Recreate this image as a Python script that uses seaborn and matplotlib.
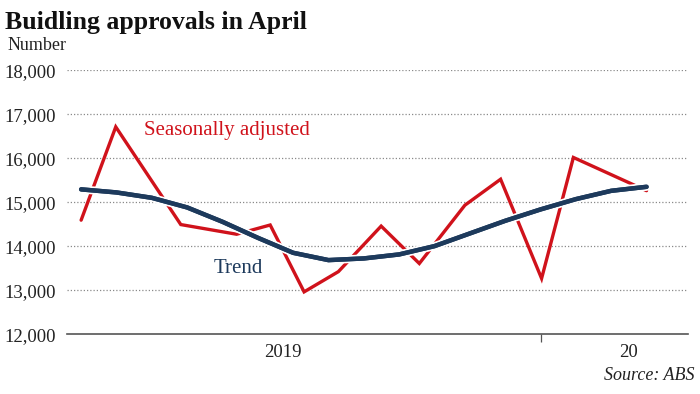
import matplotlib
matplotlib.use("Agg")
import matplotlib.pyplot as plt
import matplotlib.patheffects as pe
import seaborn as sns
import pandas as pd

# ---- data ----
# x measured in months from Dec 2018 (0) to Apr 2020 (16)
sa_x = [0, 0.98, 2.82, 4.40, 5.35, 6.31, 7.28, 8.49, 9.57, 10.86, 11.87, 13.03, 13.93, 16.0]
sa_y = [14590, 16710, 14490, 14270, 14480, 12960, 13420, 14455, 13605, 14930, 15520, 13265, 16015, 15260]
trend_x = list(range(17))
trend_y = [15290, 15220, 15098, 14879, 14553, 14189, 13848, 13682, 13720, 13811,
           14000, 14288, 14575, 14834, 15068, 15257, 15348]
y_ticks = [12000, 13000, 14000, 15000, 16000, 17000, 18000]
x_label_pos = [5.71, 15.5]
x_labels = ["2019", "20"]
year_tick = [13]

RED = "#d0121b"
NAVY = "#1d3a5c"
SERIF = ["Liberation Serif", "DejaVu Serif"]

sns.set_theme(style="white")
plt.rcParams["font.family"] = SERIF

fig = plt.figure(figsize=(7.0, 3.94), dpi=100)
ax = fig.add_axes([0.0957, 0.152, 0.887, 0.670])

sa = pd.DataFrame({"x": sa_x, "y": sa_y})
tr = pd.DataFrame({"x": trend_x, "y": trend_y})

sns.lineplot(data=sa, x="x", y="y", ax=ax, color=RED, lw=2.4, zorder=3)
sns.lineplot(data=tr, x="x", y="y", ax=ax, color=NAVY, lw=3.2, zorder=4,
             path_effects=[pe.withStroke(linewidth=5.8, foreground="white"), pe.Normal()])
ax.lines[-1].set_solid_capstyle("round")
ax.lines[-1].set_solid_joinstyle("round")
ax.lines[0].set_solid_joinstyle("miter")

ax.set_ylim(12000, 18000)
ax.set_xlim(-0.40, 17.17)
ax.set_yticks(y_ticks)
ax.set_yticklabels([f"{v:,}" for v in y_ticks])
for v in y_ticks[1:]:
    ax.axhline(v, color="#8a8a8a", lw=0.9, ls=(0, (1, 1.6)), zorder=1)

ax.set_xticks(x_label_pos)
ax.set_xticklabels(x_labels)
ax.set_xticks(year_tick, minor=True)
ax.tick_params(axis="x", which="major", length=0, pad=7, labelsize=13.5, colors="#222222")
ax.tick_params(axis="x", which="minor", length=6, width=0.9, color="#555555", direction="out", bottom=True)
ax.tick_params(axis="y", length=0, pad=8, labelsize=13.5, colors="#222222")

for s in ["top", "right", "left"]:
    ax.spines[s].set_visible(False)
ax.spines["bottom"].set_color("#555555")
ax.spines["bottom"].set_linewidth(1.2)
ax.set_xlabel("")
ax.set_ylabel("")
ax.grid(False)

ax.text(1.77, 16620, "Seasonally adjusted", color=RED, fontsize=15, va="center", ha="left")
ax.text(3.76, 13500, "Trend", color=NAVY, fontsize=15, va="center", ha="left")

fig.text(0.007, 0.972, "Buidling approvals in April", fontsize=18.5, fontweight="bold",
         va="top", ha="left", color="#111111")
fig.text(0.011, 0.885, "Number", fontsize=13, va="center", ha="left", color="#222222")
fig.text(0.992, 0.048, "Source: ABS", fontsize=13, style="italic", va="center", ha="right",
         color="#222222")

fig.savefig("out.png", dpi=100)
